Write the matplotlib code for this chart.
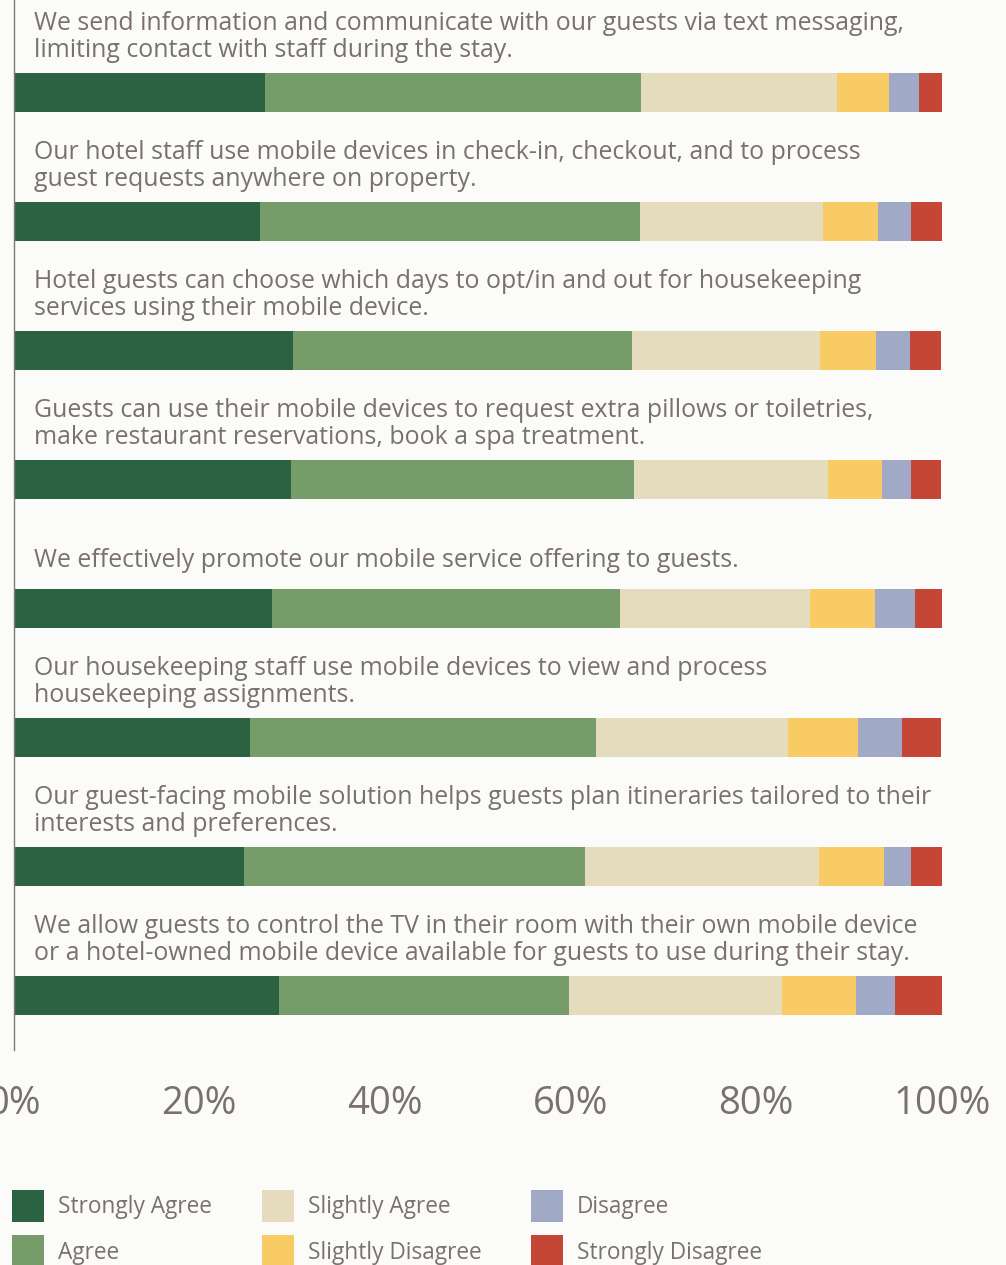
import matplotlib
matplotlib.use("Agg")
import matplotlib.pyplot as plt
from matplotlib.patches import Patch

# survey statements (top to bottom)
statements = [
    "We send information and communicate with our guests via text messaging,\nlimiting contact with staff during the stay.",
    "Our hotel staff use mobile devices in check-in, checkout, and to process\nguest requests anywhere on property.",
    "Hotel guests can choose which days to opt/in and out for housekeeping\nservices using their mobile device.",
    "Guests can use their mobile devices to request extra pillows or toiletries,\nmake restaurant reservations, book a spa treatment.",
    "We effectively promote our mobile service offering to guests.",
    "Our housekeeping staff use mobile devices to view and process\nhousekeeping assignments.",
    "Our guest-facing mobile solution helps guests plan itineraries tailored to their\ninterests and preferences.",
    "We allow guests to control the TV in their room with their own mobile device\nor a hotel-owned mobile device available for guests to use during their stay.",
]

levels = ["Strongly Agree", "Agree", "Slightly Agree",
          "Slightly Disagree", "Disagree", "Strongly Disagree"]

strongly_agree    = [27.1, 26.5, 30.1, 29.9, 27.8, 25.5, 24.8, 28.6]
agree             = [40.5, 41.0, 36.5, 36.9, 37.5, 37.2, 36.8, 31.2]
slightly_agree    = [21.1, 19.7, 20.3, 20.9, 20.5, 20.7, 25.2, 23.0]
slightly_disagree = [5.6, 5.9, 6.0, 5.8, 7.0, 7.5, 7.0, 7.9]
disagree          = [3.2, 3.6, 3.7, 3.2, 4.3, 4.8, 2.9, 4.2]
strongly_disagree = [2.5, 3.3, 3.3, 3.2, 3.0, 4.2, 3.3, 5.1]

xticks = [0, 20, 40, 60, 80, 100]
xtick_labels = ["0%", "20%", "40%", "60%", "80%", "100%"]

colors = ["#2a6242", "#769c6a", "#e5dcbd", "#f9cb64", "#a0a9c6", "#c54636"]
text_col = "#7a716d"
bg = "#fbfcf9"

plt.rcParams["font.family"] = ["Open Sans", "DejaVu Sans"]

series = [strongly_agree, agree, slightly_agree, slightly_disagree, disagree, strongly_disagree]

fig = plt.figure(figsize=(10.06, 12.65), dpi=100, facecolor=bg)
W, H = 1006, 1265
ax = fig.add_axes([13.5 / W, 1 - 1050 / H, (942 - 13.5) / W, 1050 / H])
ax.set_facecolor(bg)

ypos = list(range(len(statements)))
left = [0] * len(statements)
for vals, c, name in zip(series, colors, levels):
    ax.barh(ypos, vals, left=left, height=0.302, color=c, label=name, linewidth=0)
    left = [l + v for l, v in zip(left, vals)]

ax.set_xlim(0, 100)
ax.set_ylim(7.42, -0.717)

# statement text above each bar
for y, s in zip(ypos, statements):
    nl = s.count("\n") + 1
    off = 29 + 7 * (nl - 1)
    ax.annotate(s, xy=(0, y - 0.151), xytext=(20.5 * 0.72, off * 0.72),
                textcoords="offset points", ha="left", va="center",
                fontsize=17.9, color=text_col,
                linespacing=1.12, annotation_clip=False)

for side in ["top", "right", "bottom"]:
    ax.spines[side].set_visible(False)
ax.spines["left"].set_color("#7f7774")
ax.spines["left"].set_linewidth(1.0)
ax.set_yticks([])
ax.set_xticks(xticks)
ax.set_xticklabels(xtick_labels, color=text_col, fontsize=27.5)
ax.tick_params(axis="x", length=0, pad=25)

# legend: square swatches, 2 rows x 3 columns
handles = [Patch(facecolor=c, edgecolor="none") for c in colors]
fig.legend(handles, levels, loc="upper left", ncol=3,
           bbox_to_anchor=(12 / W, 1 - 1190 / H), frameon=False,
           borderpad=0, borderaxespad=0, handlelength=1.41, handleheight=1.8,
           handletextpad=0.62, columnspacing=2.2, labelspacing=0.59,
           fontsize=16.3, labelcolor=text_col)

fig.savefig("out.png", dpi=100, facecolor=bg)
